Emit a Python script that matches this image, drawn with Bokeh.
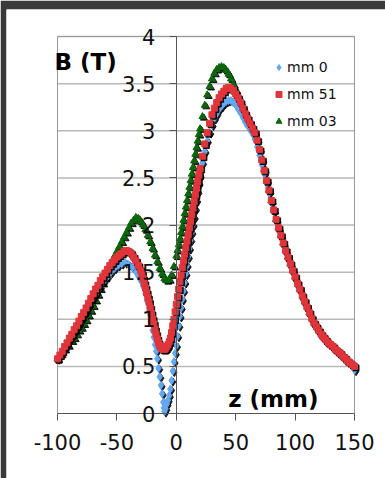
from bokeh.plotting import figure
from bokeh.models import (ColumnDataSource, FixedTicker, Label, Legend, LegendItem,
                          NumeralTickFormatter, Range1d)
from bokeh.transform import dodge
from bokeh.embed import file_html
from bokeh.resources import INLINE

# ---------------- data ----------------
x_ticks = [-100, -50, 0, 50, 100, 150]
y_ticks = [0, 0.5, 1, 1.5, 2, 2.5, 3, 3.5, 4]

series_names = ["mm 0", "mm 51", "mm 03"]

z_blue = [-100, -97, -94, -91, -88, -85, -82, -79, -76, -73, -70, -67, -64, -61, -58, -55,
          -52, -49, -46, -43, -40, -37, -34, -32, -30, -28, -26, -24.5, -23, -22, -21, -20,
          -19, -18, -17, -16, -15, -14, -13, -12, -11, -10.5, -10, -9, -8, -7, -6, -5,
          -4, -3, -2, -1, 0, 1, 2, 3, 4, 5, 6, 7, 8, 9, 10, 11,
          12, 13, 14, 15, 16, 17, 18, 19, 20, 22, 24, 26, 28, 30, 32, 34,
          36, 38, 40, 42, 44, 46, 48, 50, 52, 54, 56, 58, 60, 62, 64, 66,
          68, 70, 72, 74, 76, 78, 80, 82, 84, 86, 88, 90, 92, 94, 96, 98,
          100, 103, 106, 109, 112, 115, 118, 121, 124, 127, 130, 133, 136, 139, 142, 145,
          147, 149, 150]
b_blue = [0.58, 0.64, 0.70, 0.76, 0.82, 0.88, 0.94, 1.01, 1.08, 1.15, 1.22, 1.28, 1.34, 1.40, 1.45, 1.50,
          1.54, 1.57, 1.59, 1.60, 1.58, 1.55, 1.50, 1.46, 1.41, 1.35, 1.27, 1.19, 1.12, 1.05, 0.97, 0.88,
          0.81, 0.73, 0.66, 0.58, 0.48, 0.39, 0.30, 0.21, 0.12, 0.06, 0.02, 0.05, 0.10, 0.14, 0.19, 0.26,
          0.35, 0.45, 0.55, 0.64, 0.72, 0.82, 0.93, 1.03, 1.12, 1.21, 1.30, 1.39, 1.48, 1.57, 1.66, 1.75,
          1.84, 1.92, 2.00, 2.08, 2.17, 2.26, 2.35, 2.44, 2.52, 2.66, 2.78, 2.89, 2.98, 3.06, 3.13, 3.18,
          3.23, 3.26, 3.29, 3.31, 3.32, 3.32, 3.30, 3.27, 3.23, 3.19, 3.14, 3.09, 3.05, 3.01, 2.97, 2.91,
          2.83, 2.74, 2.64, 2.54, 2.44, 2.34, 2.24, 2.14, 2.05, 1.96, 1.87, 1.79, 1.71, 1.63, 1.56, 1.49,
          1.42, 1.32, 1.22, 1.13, 1.05, 0.97, 0.91, 0.85, 0.80, 0.76, 0.72, 0.68, 0.64, 0.61, 0.58, 0.55,
          0.54, 0.49, 0.46]

z_red = [-100, -98, -96, -94, -92, -90, -88, -86, -84, -82, -80, -78, -76, -74, -72, -70,
         -68, -66, -64, -62, -60, -58, -56, -54, -52, -50, -48, -46, -44, -42, -40, -38,
         -36, -34, -32, -30, -29, -28, -27, -26, -25, -24, -23, -22, -21, -20, -19, -18,
         -17, -16, -15, -14, -13, -12, -11, -10, -9, -8, -7, -6, -5, -4, -3, -2,
         -1, 0, 1, 2, 3, 4, 5, 6, 7, 8, 9, 10, 11, 12, 13, 14,
         15, 16, 17, 18, 19, 20, 22, 24, 26, 28, 30, 32, 34, 36, 38, 40,
         42, 44, 46, 48, 50, 52, 54, 56, 58, 60, 62, 64, 66, 68, 70, 72,
         74, 76, 78, 80, 82, 84, 86, 88, 90, 92, 94, 96, 98, 100, 102, 104,
         106, 108, 110, 112, 114, 116, 118, 120, 122, 124, 126, 128, 130, 132, 134, 136,
         138, 140, 142, 144, 146, 148, 150]
b_red = [0.58, 0.62, 0.66, 0.71, 0.75, 0.80, 0.84, 0.89, 0.93, 0.98, 1.03, 1.07, 1.12, 1.17, 1.22, 1.27,
         1.32, 1.36, 1.41, 1.45, 1.49, 1.53, 1.57, 1.60, 1.63, 1.66, 1.68, 1.70, 1.72, 1.73, 1.72, 1.70,
         1.66, 1.62, 1.57, 1.52, 1.48, 1.43, 1.38, 1.33, 1.28, 1.23, 1.18, 1.12, 1.06, 1.00, 0.95, 0.89,
         0.84, 0.79, 0.75, 0.72, 0.70, 0.69, 0.68, 0.68, 0.69, 0.71, 0.73, 0.76, 0.80, 0.86, 0.93, 1.00,
         1.08, 1.16, 1.24, 1.32, 1.40, 1.47, 1.55, 1.62, 1.69, 1.76, 1.83, 1.90, 1.97, 2.04, 2.11, 2.18,
         2.25, 2.32, 2.39, 2.46, 2.53, 2.60, 2.73, 2.86, 2.98, 3.08, 3.17, 3.24, 3.30, 3.35, 3.39, 3.42,
         3.45, 3.46, 3.45, 3.43, 3.39, 3.35, 3.30, 3.24, 3.18, 3.13, 3.08, 3.03, 2.98, 2.90, 2.80, 2.69,
         2.58, 2.47, 2.37, 2.26, 2.16, 2.06, 1.97, 1.89, 1.81, 1.73, 1.66, 1.59, 1.52, 1.45, 1.38, 1.32,
         1.25, 1.19, 1.13, 1.07, 1.01, 0.96, 0.92, 0.88, 0.84, 0.81, 0.78, 0.75, 0.73, 0.71, 0.68, 0.66,
         0.64, 0.61, 0.59, 0.56, 0.54, 0.52, 0.50]

z_green = [-100, -97, -94, -91, -88, -86, -84, -82, -80, -78, -76, -74, -72, -70, -68, -66,
           -64, -62, -60, -58, -56, -54, -52, -50, -48, -46, -44, -42, -40, -38, -36, -34,
           -32, -30, -28, -26, -24, -22, -20, -18, -16, -14, -12, -10, -8, -6, -4, -2,
           0, 1, 2, 3, 4, 5, 6, 7, 8, 9, 10, 11, 12, 13, 14, 15,
           16, 17, 18, 19, 20, 22, 24, 26, 28, 30, 32, 34, 36, 38, 40, 42,
           44, 46, 48, 50, 52, 54, 56, 58, 60, 62, 64, 66, 68, 70, 72, 74,
           76, 78, 80, 82, 84, 86, 88, 90, 92, 94, 96, 98, 100, 104, 108, 112,
           116, 120, 124, 128, 132, 136, 140, 144, 148]
b_green = [0.58, 0.63, 0.68, 0.72, 0.77, 0.80, 0.84, 0.88, 0.91, 0.95, 0.99, 1.04, 1.09, 1.14, 1.20, 1.26,
           1.32, 1.38, 1.44, 1.50, 1.56, 1.62, 1.67, 1.72, 1.77, 1.82, 1.87, 1.92, 1.97, 2.02, 2.05, 2.08,
           2.07, 2.04, 2.00, 1.95, 1.89, 1.82, 1.75, 1.68, 1.61, 1.54, 1.48, 1.43, 1.41, 1.42, 1.47, 1.56,
           1.67, 1.73, 1.79, 1.85, 1.92, 1.98, 2.05, 2.12, 2.19, 2.26, 2.33, 2.40, 2.47, 2.54, 2.61, 2.68,
           2.75, 2.82, 2.89, 2.96, 3.02, 3.15, 3.27, 3.38, 3.47, 3.55, 3.61, 3.65, 3.67, 3.68, 3.67, 3.64,
           3.60, 3.55, 3.49, 3.43, 3.37, 3.31, 3.25, 3.19, 3.13, 3.09, 3.04, 2.99, 2.91, 2.81, 2.70, 2.59,
           2.48, 2.37, 2.26, 2.16, 2.06, 1.97, 1.89, 1.81, 1.73, 1.66, 1.59, 1.52, 1.45, 1.32, 1.19, 1.07,
           0.96, 0.88, 0.81, 0.75, 0.71, 0.66, 0.61, 0.56, 0.52]

# ---------------- layout (pixels) and styles ----------------
W, H = 385, 478                 # page
STRIP_L, STRIP_T = 6, 9         # dark page strips (left / top)
PLOT_L, PLOT_R, PLOT_T, PLOT_B = 57, 354, 36, 413   # plot area in the page

BLUE = "#62a8f5"
RED = "#e0353a"
GREEN = "#0b650b"
FONT = "DejaVu Sans"
DARK = "#3a3a3a"

# the frame fills the page except the dark strips; the ranges are widened so that
# the tick extents land on the plot-area pixels
px_x = (PLOT_R - PLOT_L) / (x_ticks[-1] - x_ticks[0])
px_y = (PLOT_B - PLOT_T) / (y_ticks[-1] - y_ticks[0])
x_range = Range1d(x_ticks[0] - (PLOT_L - STRIP_L) / px_x, x_ticks[-1] + (W - PLOT_R) / px_x)
y_range = Range1d(y_ticks[0] - (H - PLOT_B) / px_y, y_ticks[-1] + (PLOT_T - STRIP_T) / px_y)

p = figure(width=W, height=H, x_range=x_range, y_range=y_range,
           output_backend="svg", toolbar_location=None,
           min_border_left=STRIP_L, min_border_top=STRIP_T,
           min_border_right=0, min_border_bottom=0)
p.title.visible = False
p.background_fill_color = "white"
p.border_fill_color = DARK
p.outline_line_color = None
p.xgrid.visible = False
p.ygrid.visible = False

# horizontal grid lines and plot-area border
p.segment(x0=x_ticks[0], x1=x_ticks[-1], y0=y_ticks[1:], y1=y_ticks[1:],
          line_color="#b8b8b8", line_width=1.5, level="underlay")
p.segment(x0=[x_ticks[0], x_ticks[-1]], x1=[x_ticks[0], x_ticks[-1]],
          y0=y_ticks[0], y1=y_ticks[-1], line_color="#999999", line_width=1, level="underlay")
p.segment(x0=x_ticks[0], x1=x_ticks[-1], y0=y_ticks[-1], y1=y_ticks[-1],
          line_color="#999999", line_width=1, level="underlay")

# x axis along B = 0
p.xaxis.fixed_location = 0
p.xaxis.bounds = (x_ticks[0], x_ticks[-1])
p.xaxis.ticker = FixedTicker(ticks=x_ticks)
p.xaxis.formatter = NumeralTickFormatter(format="0")
p.xaxis.major_tick_out = 7
p.xaxis.major_tick_in = 0
p.xaxis.minor_tick_line_color = None
p.xaxis.axis_line_color = "#555555"
p.xaxis.major_tick_line_color = "#555555"
p.xaxis.major_label_text_font = FONT
p.xaxis.major_label_text_font_size = "21px"
p.xaxis.major_label_text_color = "#111111"
p.xaxis.major_label_standoff = 13

# y axis crossing at z = 0
p.yaxis.fixed_location = 0
p.yaxis.bounds = (y_ticks[0], y_ticks[-1])
p.yaxis.ticker = FixedTicker(ticks=y_ticks)
p.yaxis.formatter = NumeralTickFormatter(format="0.[0]")
p.yaxis.major_tick_out = 7
p.yaxis.major_tick_in = 0
p.yaxis.minor_tick_line_color = None
p.yaxis.axis_line_color = "#555555"
p.yaxis.major_tick_line_color = "#555555"
p.yaxis.major_label_text_font = FONT
p.yaxis.major_label_text_font_size = "21px"
p.yaxis.major_label_text_color = "#111111"
p.yaxis.major_label_standoff = 14

def add_series(z, b, marker, size, color):
    src = ColumnDataSource(dict(z=z, b=b))
    p.scatter(x=dodge("z", 1.3), y=dodge("b", -0.016), source=src, marker=marker,
              size=size, fill_color="black", line_color="black", alpha=0.85)
    return p.scatter("z", "b", source=src, marker=marker, size=size,
                     fill_color=color, line_color=color)

r_green = add_series(z_green, b_green, "triangle", 7, GREEN)
r_blue = add_series(z_blue, b_blue, "diamond", 8, BLUE)
r_red = add_series(z_red, b_red, "square", 6, RED)

legend = Legend(items=[LegendItem(label=series_names[0], renderers=[r_blue]),
                       LegendItem(label=series_names[1], renderers=[r_red]),
                       LegendItem(label=series_names[2], renderers=[r_green])],
                location=(265, 347), padding=0, margin=0, spacing=7,
                glyph_width=15, glyph_height=20, label_height=20, label_standoff=1,
                label_text_font=FONT, label_text_font_size="14px",
                label_text_color="#111111",
                border_line_alpha=0, background_fill_alpha=0)
p.add_layout(legend)

p.add_layout(Label(x=x_ticks[0], y=y_ticks[-1], text="B (T)", x_offset=-3, y_offset=-25,
                   text_align="left", text_baseline="middle",
                   text_font=FONT, text_font_style="bold", text_font_size="23px",
                   text_color="#000000"))
p.add_layout(Label(x=x_ticks[-1], y=y_ticks[0], text="z (mm)", x_offset=-36, y_offset=15,
                   text_align="right", text_baseline="middle",
                   text_font=FONT, text_font_style="bold", text_font_size="23px",
                   text_color="#000000"))

open("out.html", "w").write(file_html(p, INLINE))
